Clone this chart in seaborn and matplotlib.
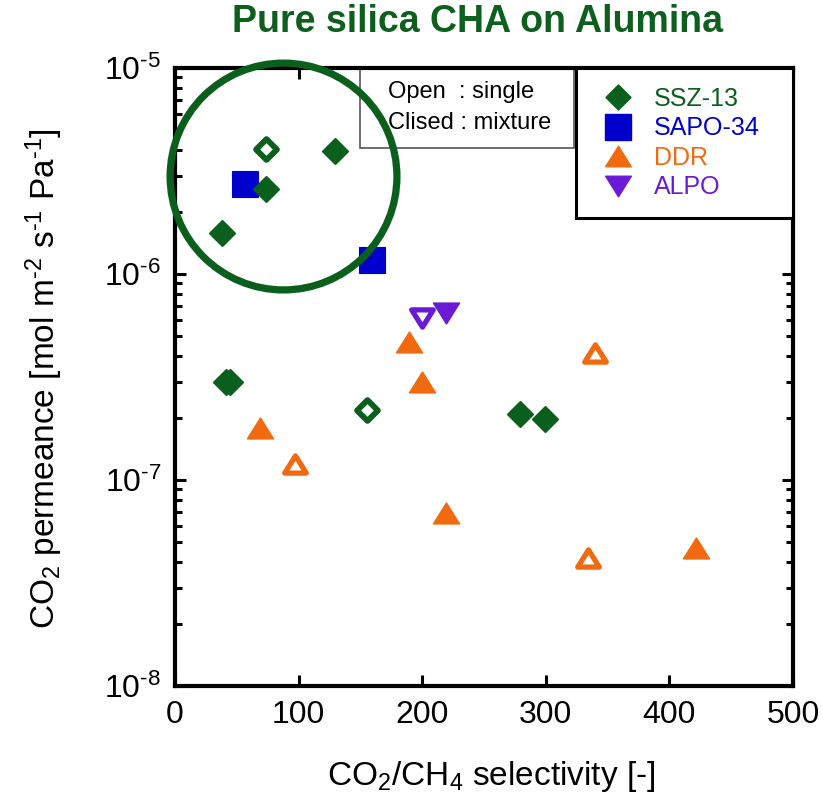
import numpy as np
import pandas as pd
import matplotlib
matplotlib.use("Agg")
import matplotlib.pyplot as plt
import seaborn as sns
from matplotlib.path import Path
from matplotlib.lines import Line2D
from matplotlib.patches import Ellipse, Rectangle
from matplotlib.ticker import LogLocator, FixedLocator, NullFormatter

# ---------------- data ----------------
materials = ["SSZ-13", "SAPO-34", "DDR", "ALPO"]

ssz_filled_x = [38.0, 73.6, 129.4, 41.5, 44.5, 279.0, 299.4]
ssz_filled_y = [1.58e-6, 2.59e-6, 3.95e-6, 2.99e-7, 2.99e-7, 2.09e-7, 1.98e-7]
ssz_open_x = [73.6, 155.3]
ssz_open_y = [4.04e-6, 2.19e-7]

sapo_filled_x = [56.6, 159.4]
sapo_filled_y = [2.73e-6, 1.17e-6]

ddr_filled_x = [68.8, 189.3, 199.8, 219.3, 421.5]
ddr_filled_y = [1.79e-7, 4.68e-7, 2.99e-7, 6.92e-8, 4.68e-8]
ddr_open_x = [97.1, 339.8, 334.1]
ddr_open_y = [1.20e-7, 4.14e-7, 4.18e-8]

alpo_filled_x = [219.3]
alpo_filled_y = [6.47e-7]
alpo_open_x = [199.8]
alpo_open_y = [6.1e-7]

x_ticks = [0, 100, 200, 300, 400, 500]
y_major = [1e-8, 1e-7, 1e-6, 1e-5]
y_labels = ["$10^{\u20108}$", "$10^{\u20107}$", "$10^{\u20106}$", "$10^{\u20105}$"]

title = "Pure silica CHA on Alumina"
xlabel = r"CO$_2$/CH$_4$ selectivity [-]"
ylabel = "CO$_2$ permeance [mol m$^{\u20102}$ s$^{\u20101}$ Pa$^{\u20101}$]"
note_lines = ["Open  : single", "Clised : mixture"]

rows = []
def add(mat, mode, xs, ys):
    for a, b in zip(xs, ys):
        rows.append({"material": mat, "mode": mode, "x": a, "y": b})

add("SAPO-34", "filled", sapo_filled_x, sapo_filled_y)
add("SSZ-13", "filled", ssz_filled_x, ssz_filled_y)
add("SSZ-13", "open", ssz_open_x, ssz_open_y)
add("DDR", "filled", ddr_filled_x, ddr_filled_y)
add("DDR", "open", ddr_open_x, ddr_open_y)
add("ALPO", "filled", alpo_filled_x, alpo_filled_y)
add("ALPO", "open", alpo_open_x, alpo_open_y)
df = pd.DataFrame(rows)

# ---------------- style ----------------
sns.set_style("ticks")
plt.rcParams["font.family"] = ["Liberation Sans", "DejaVu Sans"]
plt.rcParams["mathtext.fontset"] = "custom"
plt.rcParams["mathtext.rm"] = "Liberation Sans"
plt.rcParams["mathtext.it"] = "Liberation Sans:italic"
plt.rcParams["mathtext.bf"] = "Liberation Sans:bold"
plt.rcParams["text.color"] = "black"
plt.rcParams["axes.labelcolor"] = "black"
plt.rcParams["xtick.color"] = "black"
plt.rcParams["ytick.color"] = "black"

colors = {"SSZ-13": "#0a5f1c", "SAPO-34": "#0000cc", "DDR": "#f26a10", "ALPO": "#6a1ad6"}
title_color = "#0c5f1d"

diamond = Path([(0, 1), (1, 0), (0, -1), (-1, 0), (0, 1)],
               [Path.MOVETO, Path.LINETO, Path.LINETO, Path.LINETO, Path.CLOSEPOLY])
tri_up = Path([(-1, -0.8), (1, -0.8), (0, 0.8), (-1, -0.8)],
              [Path.MOVETO, Path.LINETO, Path.LINETO, Path.CLOSEPOLY])
tri_dn = Path([(-1, 0.8), (1, 0.8), (0, -0.8), (-1, 0.8)],
              [Path.MOVETO, Path.LINETO, Path.LINETO, Path.CLOSEPOLY])
markers = {"SSZ-13": diamond, "SAPO-34": "s", "DDR": tri_up, "ALPO": tri_dn}
# marker size (pt) and edge width (pt) for filled/open
msize = {("SSZ-13", "filled"): (18, 1.5), ("SSZ-13", "open"): (15, 4.2),
         ("SAPO-34", "filled"): (18.5, 0.8),
         ("DDR", "filled"): (18.5, 1.2), ("DDR", "open"): (15.5, 3.8),
         ("ALPO", "filled"): (18.5, 1.2), ("ALPO", "open"): (15.5, 3.8)}

fig = plt.figure(figsize=(8.23, 8.01), dpi=100)
ax = fig.add_axes([175 / 823, 1 - 686 / 801, 618 / 823, 618 / 801])

for (mat, mode), sub in df.groupby(["material", "mode"], sort=False):
    c = colors[mat]
    ms, lw = msize[(mat, mode)]
    face = c if mode == "filled" else "white"
    sns.scatterplot(data=sub, x="x", y="y", ax=ax, marker=markers[mat],
                    s=ms ** 2, color=c, facecolor=face, edgecolor=c,
                    linewidth=lw, legend=False, zorder=3,
                    joinstyle="miter" if mat == "SAPO-34" else "round")

ax.set_yscale("log")
ax.set_xlim(0, 500)
ax.set_ylim(1e-8, 1e-5)
ax.xaxis.set_major_locator(FixedLocator(x_ticks))
ax.set_xticks(x_ticks)
ax.set_xticklabels([str(t) for t in x_ticks])
ax.set_yticks(y_major)
ax.set_yticklabels(y_labels)
ax.yaxis.set_minor_locator(LogLocator(base=10, subs=np.arange(2, 10)))
ax.yaxis.set_minor_formatter(NullFormatter())

for sp in ax.spines.values():
    sp.set_linewidth(3.0)
    sp.set_color("black")
    sp.set_visible(True)
ax.tick_params(which="both", direction="in", top=True, right=True, colors="black")
ax.tick_params(which="major", length=8, width=2.2, labelsize=23, pad=10)
ax.tick_params(which="minor", length=5, width=2.2)

ax.set_xlabel(xlabel, fontsize=24)
ax.set_ylabel(ylabel, fontsize=24)
ax.xaxis.set_label_coords(0.511, -0.118)
ax.yaxis.set_label_coords(-0.178, 0.498)

# highlight circle
circ = Ellipse((0.1756, 0.8244), 0.367, 0.367, transform=ax.transAxes,
               fill=False, edgecolor=colors["SSZ-13"], linewidth=5.2,
               clip_on=False, zorder=4)
ax.add_patch(circ)

# note box
rect = Rectangle((0.299, 0.8706), 0.346, 0.128, transform=ax.transAxes,
                 fill=True, facecolor="white", edgecolor="#555555",
                 linewidth=1.2, zorder=2)
ax.add_patch(rect)
ax.text(0.345, 0.961, note_lines[0], transform=ax.transAxes, fontsize=17,
        ha="left", va="center", zorder=5)
ax.text(0.345, 0.911, note_lines[1], transform=ax.transAxes, fontsize=17,
        ha="left", va="center", zorder=5)

# legend
handles = []
leg_ms = {"SSZ-13": 18, "SAPO-34": 19, "DDR": 18.5, "ALPO": 18.5}
for mat in materials:
    handles.append(Line2D([], [], linestyle="none", marker=markers[mat],
                          markersize=leg_ms[mat], markerfacecolor=colors[mat],
                          markeredgecolor=colors[mat], markeredgewidth=1.0))
leg = ax.legend(handles, materials, loc="upper left",
                bbox_to_anchor=(0.649, 0.0, 0.351, 1.0), mode="expand",
                borderaxespad=0, fontsize=18, frameon=True, fancybox=False,
                framealpha=1, edgecolor="black", borderpad=0.75,
                handlelength=1.85, handletextpad=0.5, labelspacing=0.22,
                labelcolor=[colors[m] for m in materials])
leg.get_frame().set_linewidth(2.2)
leg.set_zorder(6)

fig.text(477 / 823, 1 - 22 / 801, title, ha="center", va="center",
         fontsize=27, fontweight="bold", color=title_color,
         family=["Liberation Sans Narrow", "Liberation Sans"])

fig.savefig("out.png", dpi=100)
